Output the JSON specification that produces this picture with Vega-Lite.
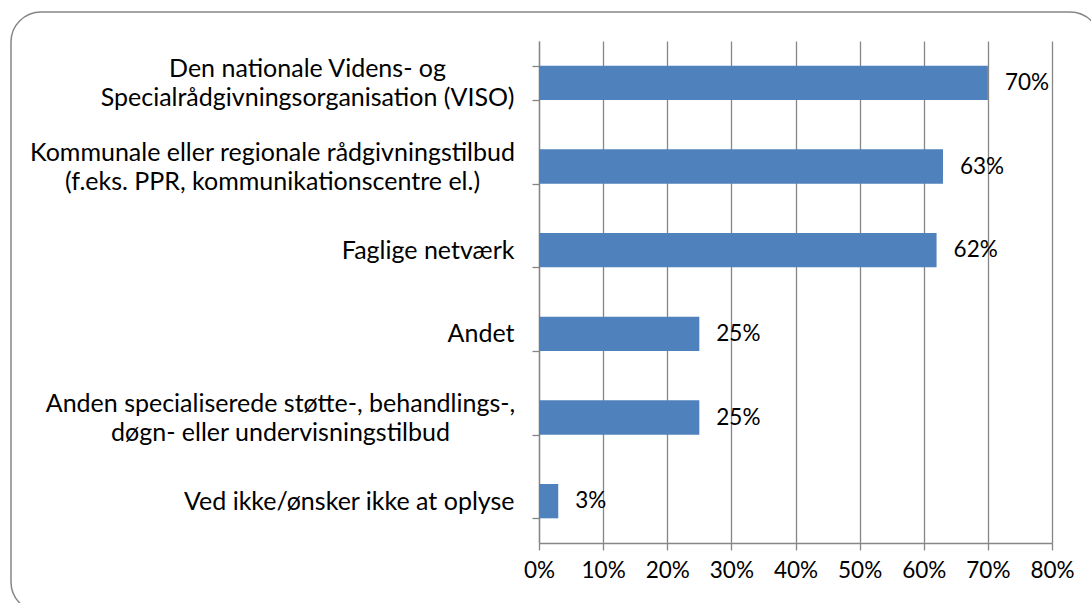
{
  "$schema": "https://vega.github.io/schema/vega-lite/v6.json",
  "width": 513,
  "height": 502,
  "autosize": {"type": "none"},
  "padding": {"left": 539, "top": 41, "right": 39, "bottom": 60},
  "background": "white",
  "config": {
    "font": "Lato",
    "view": {"stroke": null},
    "axis": {"labelFont": "Lato", "labelColor": "#000000"}
  },
  "datasets": {
    "answers": [
      {"kategori": "Den nationale Videns- og\nSpecialrådgivningsorganisation (VISO)", "andel": 0.70},
      {"kategori": "Kommunale eller regionale rådgivningstilbud\n(f.eks. PPR, kommunikationscentre el.)", "andel": 0.63},
      {"kategori": "Faglige netværk", "andel": 0.62},
      {"kategori": "Andet", "andel": 0.25},
      {"kategori": "Anden specialiserede støtte-, behandlings-,\ndøgn- eller undervisningstilbud", "andel": 0.25},
      {"kategori": "Ved ikke/ønsker ikke at oplyse", "andel": 0.03}
    ],
    "frame": [{"left": -0.8234, "right": 0.875, "top": 1.0578, "bottom": -0.1375}]
  },
  "layer": [
    {
      "data": {"name": "frame"},
      "mark": {"type": "rect", "fill": null, "stroke": "#868686", "strokeWidth": 1.5, "cornerRadius": 30, "clip": false},
      "encoding": {
        "x": {"field": "left", "type": "quantitative", "scale": {"domain": [0, 0.8]}},
        "x2": {"field": "right"},
        "y": {"field": "top", "type": "quantitative", "scale": {"domain": [0, 1]}, "axis": null},
        "y2": {"field": "bottom"}
      }
    },
    {
      "layer": [
        {
          "mark": {"type": "bar", "color": "#4F81BD"},
          "encoding": {
            "x": {
              "field": "andel",
              "type": "quantitative",
              "scale": {"domain": [0, 0.8]},
              "axis": {
                "title": null,
                "format": ".0%",
                "values": [0, 0.1, 0.2, 0.3, 0.4, 0.5, 0.6, 0.7, 0.8],
                "labelOverlap": false,
                "labelFlush": false,
                "grid": true,
                "gridColor": "#868686",
                "gridWidth": 1.3,
                "gridOpacity": 1,
                "domainColor": "#868686",
                "domainWidth": 1.3,
                "tickColor": "#868686",
                "tickWidth": 1.3,
                "tickSize": 7,
                "labelPadding": 9,
                "labelFontSize": 22.5
              }
            },
            "y": {
              "field": "kategori",
              "type": "nominal",
              "sort": null,
              "scale": {"paddingInner": 0.59, "paddingOuter": 0.295},
              "axis": {
                "title": null,
                "labelExpr": "split(datum.label, '\\n')",
                "labelLineHeight": 29,
                "labelFontSize": 25,
                "labelLimit": 700,
                "labelOffset": {"condition": {"test": "length(split(datum.value, 'ion')) > 1 || length(split(datum.value, 'behandlings')) > 1", "value": -14.5}, "value": 0},
                "labelAlign": {"condition": {"test": "length(split(datum.value, 'ion')) > 1 || length(split(datum.value, 'behandlings')) > 1", "value": "center"}, "value": "right"},
                "labelPadding": {
                  "condition": [
                    {"test": "length(split(datum.value, 'VISO')) > 1", "value": 225},
                    {"test": "length(split(datum.value, 'Kommunale')) > 1", "value": 260},
                    {"test": "length(split(datum.value, 'behandlings')) > 1", "value": 252}
                  ],
                  "value": 18
                },
                "tickBand": "extent",
                "tickColor": "#868686",
                "tickWidth": 1.3,
                "tickSize": 7,
                "domainColor": "#868686",
                "domainWidth": 1.3,
                "grid": false
              }
            }
          }
        },
        {
          "mark": {"type": "text", "align": "left", "baseline": "middle", "dx": 17, "fontSize": 22.5, "color": "#000000"},
          "encoding": {
            "x": {"field": "andel", "type": "quantitative"},
            "y": {"field": "kategori", "type": "nominal", "sort": null},
            "text": {"field": "andel", "type": "quantitative", "format": ".0%"}
          }
        }
      ],
      "data": {"name": "answers"}
    }
  ],
  "resolve": {"scale": {"y": "independent"}}
}
